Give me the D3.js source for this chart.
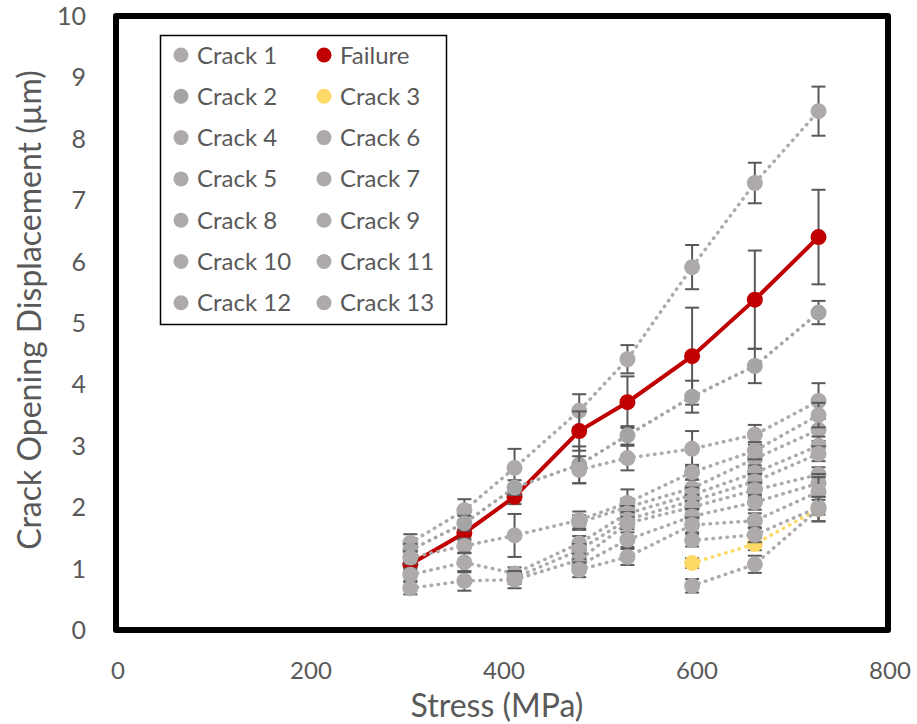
<!DOCTYPE html>
<html>
<head>
<meta charset="utf-8">
<script src="https://cdn.jsdelivr.net/npm/d3@7"></script>
<style>
  body { margin: 0; background: #fff; }
  text { font-family: Lato, "Open Sans", sans-serif; fill: #595959; }
</style>
</head>
<body>
<svg id="chart" width="917" height="724"></svg>
<script>
// stress levels (MPa)
var stress = [305, 361, 413, 480, 530, 597, 662, 728]
var xTicks = [0, 200, 400, 600, 800]
var yTicks = [0, 1, 2, 3, 4, 5, 6, 7, 8, 9, 10]

// crack opening displacement (um), null = crack not yet present
var crack1  = [1.42, 1.95, 2.64, 3.57, 4.41, 5.91, 7.28, 8.45]
var crack2  = [1.30, 1.74, 2.32, 2.69, 3.17, 3.80, 4.30, 5.17]
var crack3  = [null, null, null, null, null, 1.09, 1.40, 1.97]
var crack4  = [null, null, null, 2.61, 2.80, 2.95, 3.18, 3.73]
var crack5  = [1.18, 1.37, 1.54, 1.79, 2.07, 2.57, 2.92, 3.50]
var crack6  = [null, null, null, 1.75, 2.00, 2.31, 2.79, 3.26]
var crack7  = [0.90, 1.10, 0.92, 1.41, 1.90, 2.20, 2.56, 3.00]
var crack8  = [null, null, 0.85, 1.30, 1.80, 2.10, 2.42, 2.87]
var crack9  = [0.68, 0.80, 0.82, 1.14, 1.74, 2.00, 2.28, 2.53]
var crack10 = [null, null, null, 1.05, 1.47, 1.85, 2.08, 2.39]
var crack11 = [null, null, null, 0.98, 1.19, 1.71, 1.78, 2.25]
var crack12 = [null, null, null, null, null, 1.46, 1.55, 2.00]
var crack13 = [null, null, null, null, null, 0.72, 1.07, 1.97]
var failure = [1.07, 1.58, 2.17, 3.24, 3.71, 4.46, 5.38, 6.40]

// error bar half widths
var err1  = [0.14, 0.18, 0.31, 0.27, 0.23, 0.36, 0.33, 0.40]
var err2  = [0.10, 0.12, 0.12, 0.30, 0.15, 0.26, 0.28, 0.19]
var err3  = [null, null, null, null, null, 0.08, 0.10, 0.20]
var err4  = [null, null, null, 0.22, 0.20, 0.29, 0.16, 0.29]
var err5  = [0.10, 0.12, 0.35, 0.14, 0.22, 0.12, 0.14, 0.20]
var err6  = [null, null, null, 0.12, 0.14, 0.14, 0.15, 0.18]
var err7  = [0.10, 0.16, 0.10, 0.12, 0.12, 0.12, 0.12, 0.15]
var err8  = [null, null, 0.10, 0.10, 0.12, 0.10, 0.12, 0.12]
var err9  = [0.10, 0.16, 0.14, 0.10, 0.10, 0.10, 0.12, 0.12]
var err10 = [null, null, null, 0.10, 0.12, 0.12, 0.12, 0.15]
var err11 = [null, null, null, 0.12, 0.13, 0.12, 0.12, 0.24]
var err12 = [null, null, null, null, null, 0.10, 0.12, 0.12]
var err13 = [null, null, null, null, null, 0.11, 0.14, 0.20]
var errF  = [0.10, 0.12, 0.12, 0.32, 0.42, 0.79, 0.80, 0.77]

var GRAY = '#AEAAAA', RED = '#C00000', GOLD = '#FFD966'

// series in Excel order (legend fills row by row)
var series = [
  {name: 'Crack 1',  v: crack1,  e: err1,  c: GRAY},
  {name: 'Failure',  v: failure, e: errF,  c: RED, solid: true},
  {name: 'Crack 2',  v: crack2,  e: err2,  c: '#A5A5A5'},
  {name: 'Crack 3',  v: crack3,  e: err3,  c: GOLD},
  {name: 'Crack 4',  v: crack4,  e: err4,  c: GRAY},
  {name: 'Crack 6',  v: crack6,  e: err6,  c: GRAY},
  {name: 'Crack 5',  v: crack5,  e: err5,  c: GRAY},
  {name: 'Crack 7',  v: crack7,  e: err7,  c: GRAY},
  {name: 'Crack 8',  v: crack8,  e: err8,  c: GRAY},
  {name: 'Crack 9',  v: crack9,  e: err9,  c: GRAY},
  {name: 'Crack 10', v: crack10, e: err10, c: GRAY},
  {name: 'Crack 11', v: crack11, e: err11, c: GRAY},
  {name: 'Crack 12', v: crack12, e: err12, c: GRAY},
  {name: 'Crack 13', v: crack13, e: err13, c: GRAY}
]

var svg = d3.select('#chart')
var x = d3.scaleLinear().domain([0, 800]).range([116, 888])
var y = d3.scaleLinear().domain([0, 10]).range([630, 16])

// tick labels
svg.append('g').selectAll('text')
   .data(xTicks).enter().append('text')
   .attr('x', d => x(d) + 2)
   .attr('y', 679)
   .attr('text-anchor', 'middle')
   .attr('font-size', 24)
   .text(d => d)

svg.append('g').selectAll('text')
   .data(yTicks).enter().append('text')
   .attr('x', 86)
   .attr('y', d => y(d) + 9)
   .attr('text-anchor', 'end')
   .attr('font-size', 25)
   .text(d => d)

svg.append('text')
   .attr('x', 497).attr('y', 717)
   .attr('text-anchor', 'middle')
   .attr('font-size', 32)
   .text('Stress (MPa)')

svg.append('text')
   .attr('transform', 'translate(41,310) rotate(-90)')
   .attr('text-anchor', 'middle')
   .attr('font-size', 32)
   .text('Crack Opening Displacement (µm)')

var line = d3.line()
             .defined(d => d[1] != null)
             .x(d => x(d[0]))
             .y(d => y(d[1]))

var plot = svg.append('g')

series.forEach(function (s) {
  var pts = stress.map((st, i) => [st, s.v[i], s.e[i]])
  var g = plot.append('g')

  g.append('path')
   .datum(pts)
   .attr('d', line)
   .attr('fill', 'none')
   .attr('stroke', s.c)
   .attr('stroke-width', s.solid ? 4 : 3.5)
   .attr('stroke-linecap', s.solid ? 'butt' : 'round')
   .attr('stroke-dasharray', s.solid ? null : '0.5 6.5')

  var ok = pts.filter(d => d[1] != null)

  var eb = g.append('g')
            .attr('stroke', '#595959')
            .attr('stroke-width', 2)
  eb.selectAll('line.v')
    .data(ok).enter().append('line')
    .attr('x1', d => x(d[0])).attr('x2', d => x(d[0]))
    .attr('y1', d => y(d[1] + d[2])).attr('y2', d => y(d[1] - d[2]))
  eb.selectAll('line.t')
    .data(ok).enter().append('line')
    .attr('x1', d => x(d[0]) - 7).attr('x2', d => x(d[0]) + 7)
    .attr('y1', d => y(d[1] + d[2])).attr('y2', d => y(d[1] + d[2]))
  eb.selectAll('line.b')
    .data(ok).enter().append('line')
    .attr('x1', d => x(d[0]) - 7).attr('x2', d => x(d[0]) + 7)
    .attr('y1', d => y(d[1] - d[2])).attr('y2', d => y(d[1] - d[2]))

  g.selectAll('circle')
   .data(ok).enter().append('circle')
   .attr('cx', d => x(d[0]))
   .attr('cy', d => y(d[1]))
   .attr('r', 8)
   .attr('fill', s.c)
})

// plot frame
svg.append('rect')
   .attr('x', x(0)).attr('y', y(10))
   .attr('width', x(800) - x(0)).attr('height', y(0) - y(10))
   .attr('fill', 'none')
   .attr('stroke', '#000')
   .attr('stroke-width', 6)
   .attr('stroke-linejoin', 'round')

// legend
var leg = svg.append('g')
leg.append('rect')
   .attr('x', 160.5).attr('y', 35.5)
   .attr('width', 286).attr('height', 289)
   .attr('fill', '#fff')
   .attr('stroke', '#000')
   .attr('stroke-width', 1.5)

var items = leg.selectAll('g.item')
   .data(series).enter().append('g')
   .attr('transform', (d, i) => 'translate(' + (i % 2 ? 324 : 181) + ',' + (55 + Math.floor(i / 2) * 41.3) + ')')
items.append('circle').attr('r', 7.5).attr('fill', d => d.c)
items.append('text')
   .attr('x', 16).attr('y', 8.5)
   .attr('font-size', 24)
   .text(d => d.name)
</script>
</body>
</html>
